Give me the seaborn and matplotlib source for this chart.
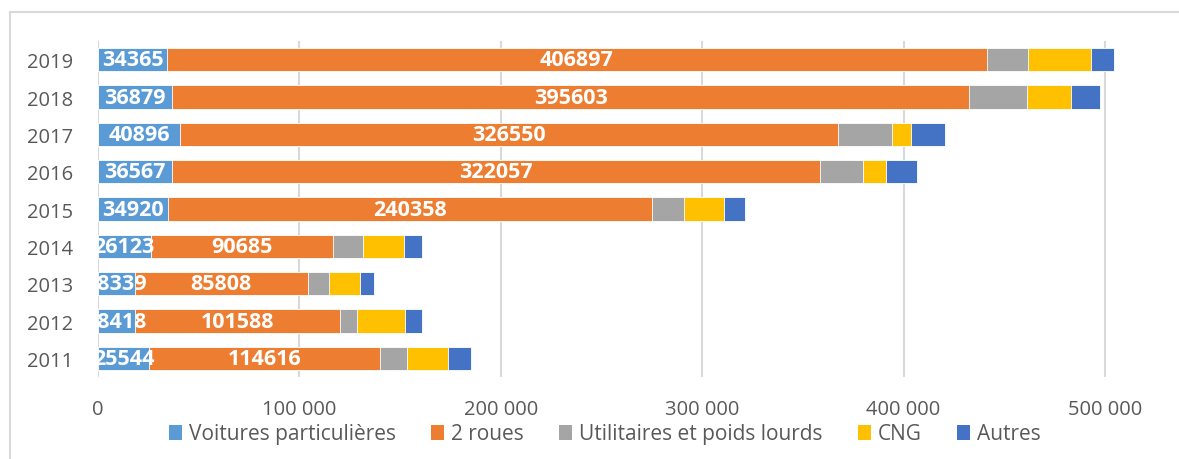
import matplotlib
matplotlib.use("Agg")
import matplotlib.pyplot as plt
import seaborn as sns
import pandas as pd
import numpy as np
from matplotlib.ticker import FuncFormatter
from matplotlib.patches import Patch
from matplotlib.lines import Line2D

years = ["2019", "2018", "2017", "2016", "2015", "2014", "2013", "2012", "2011"]
voitures = [34365, 36879, 40896, 36567, 34920, 26123, 18339, 18418, 25544]
deux_roues = [406897, 395603, 326550, 322057, 240358, 90685, 85808, 101588, 114616]
utilitaires = [20600, 28800, 27000, 21200, 15800, 15000, 10600, 8700, 13300]
cng = [31000, 21800, 9200, 11400, 19900, 19900, 15400, 23800, 20500]
autres = [11600, 14300, 17000, 15200, 10400, 9100, 7100, 8300, 11300]

series_names = ["Voitures particulières", "2 roues", "Utilitaires et poids lourds", "CNG", "Autres"]
colors = ["#5B9BD5", "#ED7D31", "#A5A5A5", "#FFC000", "#4472C4"]
xticks = [0, 100000, 200000, 300000, 400000, 500000]

sns.set_theme(style="white")
plt.rcParams["font.family"] = ["Open Sans", "DejaVu Sans"]

df = pd.DataFrame({"year": years, "v": voitures, "r": deux_roues, "u": utilitaires,
                   "c": cng, "a": autres})
cols = ["v", "r", "u", "c", "a"]
cum = df[cols].cumsum(axis=1)

fig = plt.figure(figsize=(11.79, 4.6), dpi=100)
ax = fig.add_axes([98/1179, 1-378/460, (1145.3-98)/1179, (378-42)/460])

# draw from the outermost cumulative to innermost so segments stack
for col, color in reversed(list(zip(cols, colors))):
    sns.barplot(x=cum[col], y=df["year"], order=years, orient="h", color=color,
                width=0.62, ax=ax, edgecolor="white", linewidth=0.6, saturation=1)

# data labels on first two series
for i, yr in enumerate(years):
    v = voitures[i]
    r = deux_roues[i]
    ax.text(v/2, i, str(v), ha="center", va="center", color="white",
            fontsize=15.5, fontweight="bold", clip_on=True)
    ax.text(v + r/2, i, str(r), ha="center", va="center", color="white",
            fontsize=15.5, fontweight="bold", clip_on=True)

ax.set_xlim(0, 520000)
ax.set_ylim(len(years)-0.5, -0.5)
ax.set_xticks(xticks)
ax.xaxis.set_major_formatter(FuncFormatter(lambda x, p: f"{int(x):,}".replace(",", " ")))
ax.grid(axis="x", color="#D9D9D9", linewidth=1.5)
ax.set_axisbelow(True)
for s in ax.spines.values():
    s.set_visible(False)
ax.set_xlabel("")
ax.set_ylabel("")
ax.tick_params(axis="y", length=0, pad=18, labelsize=14.5, labelcolor="#595959")
ax.tick_params(axis="x", length=0, pad=16, labelsize=14.5, labelcolor="#595959")

handles = [Patch(facecolor=c, edgecolor="none") for c in colors]
fig.legend(handles, series_names, loc="center", bbox_to_anchor=(605/1179, 1-435/460),
           ncol=5, frameon=False, handlelength=0.6, handleheight=0.7, handletextpad=0.35,
           columnspacing=1.7, fontsize=15, labelcolor="#595959")

# chart border
fig.add_artist(Line2D([10/1179, 1], [1-13/460, 1-13/460], color="#D9D9D9", linewidth=1.5))
fig.add_artist(Line2D([10/1179, 10/1179], [0, 1-13/460], color="#D9D9D9", linewidth=1.5))

fig.savefig("out.png", dpi=100)
